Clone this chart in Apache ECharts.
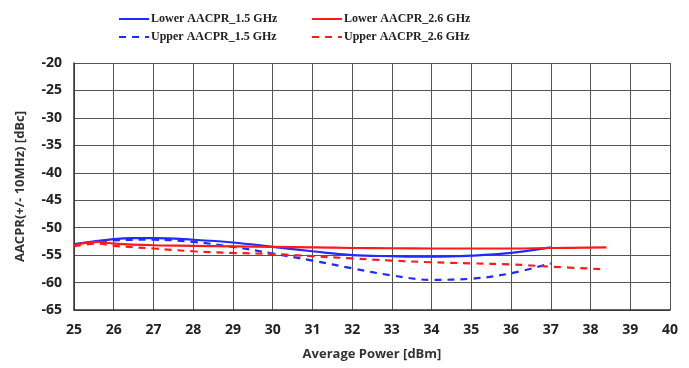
<!DOCTYPE html>
<html>
<head>
<meta charset="utf-8">
<script src="https://cdn.jsdelivr.net/npm/echarts@6/dist/echarts.min.js"></script>
<style>
  html, body { margin: 0; padding: 0; background: #fff; }
  #chart { width: 689px; height: 368px; }
</style>
</head>
<body>
<div id="chart"></div>
<script>
// values
const xLower15 = [25, 26, 26.5, 27, 28, 29, 30, 31, 32, 33, 34, 35, 36, 37]
const yLower15 = [-53, -52.1, -51.9, -51.9, -52.2, -52.7, -53.5, -54.3, -55, -55.2, -55.3, -55.1, -54.6, -53.6]
const xUpper15 = [25, 26, 27, 28, 29, 30, 31, 32, 33, 34, 35, 36, 37]
const yUpper15 = [-53.2, -52.3, -52.2, -52.6, -53.5, -54.7, -56, -57.4, -58.7, -59.5, -59.3, -58.3, -56.5]
const xLower26 = [25, 25.6, 26, 27, 28, 29, 30, 31, 32, 33, 34, 35, 36, 37, 38.4]
const yLower26 = [-53.2, -52.6, -52.9, -53.2, -53.3, -53.4, -53.5, -53.6, -53.7, -53.75, -53.8, -53.8, -53.8, -53.7, -53.6]
const xUpper26 = [25, 25.6, 26, 27, 28, 29, 30, 31, 32, 33, 34, 35, 36, 37, 38.4]
const yUpper26 = [-53.4, -52.9, -53.3, -53.8, -54.3, -54.6, -54.8, -55.2, -55.6, -56, -56.3, -56.5, -56.7, -57.1, -57.6]

const names = ['Lower AACPR_1.5 GHz', 'Upper AACPR_1.5 GHz', 'Lower AACPR_2.6 GHz', 'Upper AACPR_2.6 GHz']

const pair = (xs, ys) => xs.map((x, i) => [x, ys[i]])

function lineSeries(name, data, color, dashed) {
  return {
    name, type: 'line', data, smooth: 0.4, showSymbol: false, symbol: 'none',
    lineStyle: { color, width: 2.2, type: dashed ? [7, 6] : 'solid' },
    itemStyle: { color },
    z: 3
  }
}

const chart = echarts.init(document.getElementById('chart'))
const legendText = { fontFamily: 'Liberation Serif', fontWeight: 'bold', fontSize: 12, color: '#222', padding: [0, 0, 0, -3] }
const legendBase = {
  orient: 'vertical', top: 8, itemWidth: 30, itemHeight: 12, itemGap: 6,
  textStyle: legendText, itemStyle: { opacity: 0 }
}
const tickFont = { fontFamily: 'Open Sans', fontWeight: 'bold', fontSize: 14, color: '#222' }
chart.setOption({
  animation: false,
  legend: [
    Object.assign({ data: [names[0], names[1]], left: 113 }, legendBase),
    Object.assign({ data: [names[2], names[3]], left: 306 }, legendBase)
  ],
  grid: { left: 74, right: 19, top: 63, bottom: 58 },
  xAxis: {
    type: 'value', min: 25, max: 40, interval: 1,
    name: 'Average Power [dBm]', nameLocation: 'middle', nameGap: 38,
    nameTextStyle: { fontFamily: 'Open Sans', fontWeight: 'bold', fontSize: 13, color: '#333' },
    axisLine: { show: true, lineStyle: { color: '#333', width: 1.5 } },
    axisTick: { show: false },
    axisLabel: Object.assign({ margin: 13 }, tickFont),
    splitLine: { show: true, lineStyle: { color: '#555', width: 1 } }
  },
  yAxis: {
    type: 'value', min: -65, max: -20, interval: 5,
    name: 'AACPR(+/- 10MHz) [dBc]', nameLocation: 'middle', nameGap: 47,
    nameTextStyle: { fontFamily: 'Open Sans', fontWeight: 'bold', fontSize: 13, color: '#333' },
    axisLine: { show: true, lineStyle: { color: '#333', width: 1.5 } },
    axisTick: { show: false },
    axisLabel: Object.assign({ margin: 12 }, tickFont),
    splitLine: { show: true, lineStyle: { color: '#555', width: 1 } }
  },
  series: [
    lineSeries(names[0], pair(xLower15, yLower15), '#1f2bff', false),
    lineSeries(names[1], pair(xUpper15, yUpper15), '#1f2bff', true),
    lineSeries(names[2], pair(xLower26, yLower26), '#ff1a1a', false),
    lineSeries(names[3], pair(xUpper26, yUpper26), '#ff1a1a', true)
  ]
})
</script>
</body>
</html>
